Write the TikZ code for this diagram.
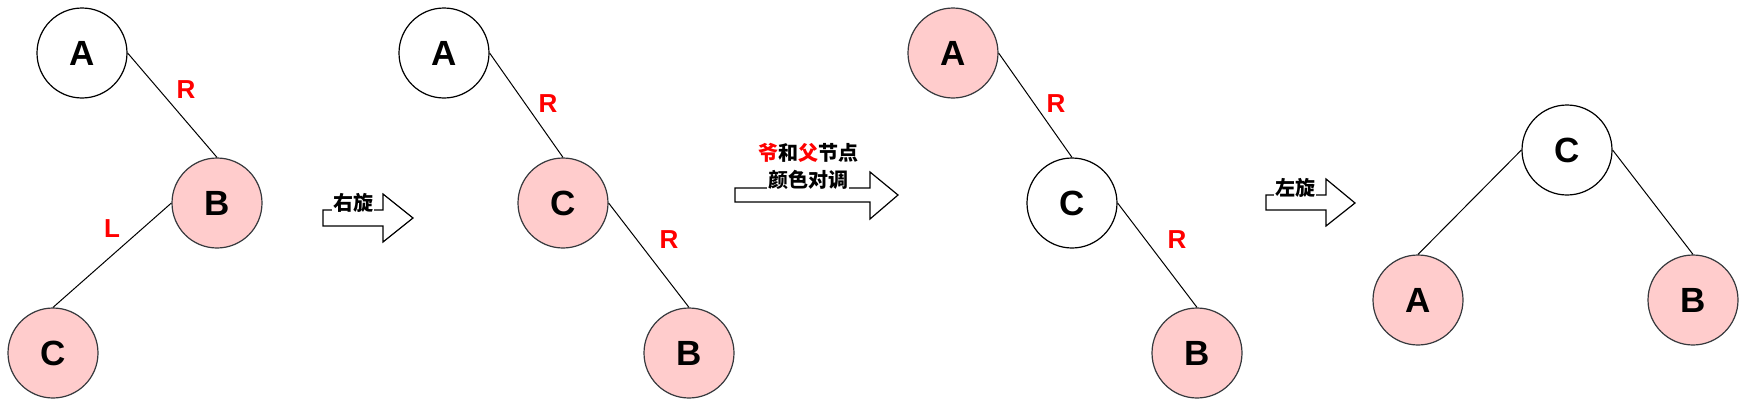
\documentclass[tikz,border=0pt]{standalone}
\usepackage{fontspec}
\setmainfont{Liberation Sans}
\newfontfamily\cjk{Noto Sans CJK SC}
\usetikzlibrary{positioning}
\definecolor{rbpink}{HTML}{FFCCCC}
\definecolor{rbedge}{HTML}{36393D}
\definecolor{rbred}{HTML}{FF0000}

\begin{document}
\begin{tikzpicture}[x=1pt,y=-1pt,
    bnode/.style={circle,draw=black,line width=1.2pt,fill=white,minimum size=90pt,
      inner sep=0pt,font=\fontsize{35}{40}\selectfont\bfseries},
    rnode/.style={bnode,draw=rbedge,fill=rbpink},
    link/.style={line width=1pt},
    lbl/.style={text=rbred,font=\fontsize{26}{30}\selectfont\bfseries},
    barrow/.style={draw=black,line width=1.2pt,fill=white,line join=miter},
    note/.style={fill=white,inner sep=1pt,font=\cjk\bfseries\fontsize{20}{24}\selectfont}]
  \useasboundingbox (0,0) rectangle (1746,407);
  % before: B red child of A, C red left child of B
  \node[bnode] (a1) at (82,53) {A};
  \node[rnode] (b1) at (217,203) {B};
  \node[rnode] (c1) at (53,353) {C};
  \draw[link] (a1.east) -- (b1.north);
  \draw[link] (b1.west) -- (c1.north);
  \node[lbl] (r1) at (186,90) {R};
  \node[lbl] (l1) at (112,229) {L};
  % right rotation
  \draw[barrow] (323,210) -- (383,210) -- (383,194) -- (413,218) -- (383,242)
    -- (383,226) -- (323,226) -- cycle;
  \node[note] (rot1) at (353,203) {右旋};
  % after right rotation
  \node[bnode] (a2) at (444,53) {A};
  \node[rnode] (c2) at (563,203) {C};
  \node[rnode] (b2) at (689,353) {B};
  \draw[link] (a2.east) -- (c2.north);
  \draw[link] (c2.east) -- (b2.north);
  \node[lbl] (r2) at (548,104) {R};
  \node[lbl] (r3) at (669,240) {R};
  % recolour
  \draw[barrow] (735,188) -- (870,188) -- (870,172) -- (898,195) -- (870,219)
    -- (870,202) -- (735,202) -- cycle;
  \node[note] (swap1) at (808,153) {\textcolor{rbred}{爷}和\textcolor{rbred}{父}节点};
  \node[note] (swap2) at (808,180) {颜色对调};
  % after recolour
  \node[rnode] (a3) at (953,53) {A};
  \node[bnode] (c3) at (1072,203) {C};
  \node[rnode] (b3) at (1197,353) {B};
  \draw[link] (a3.east) -- (c3.north);
  \draw[link] (c3.east) -- (b3.north);
  \node[lbl] (r4) at (1056,104) {R};
  \node[lbl] (r5) at (1177,240) {R};
  % left rotation
  \draw[barrow] (1266,195) -- (1326,195) -- (1326,179) -- (1355,203) -- (1326,226)
    -- (1326,210) -- (1266,210) -- cycle;
  \node[note] (rot2) at (1295,188) {左旋};
  % balanced
  \node[bnode] (c4) at (1567,150) {C};
  \node[rnode] (a4) at (1418,300) {A};
  \node[rnode] (b4) at (1693,300) {B};
  \draw[link] (c4.west) -- (a4.north);
  \draw[link] (c4.east) -- (b4.north);
\end{tikzpicture}
\end{document}
